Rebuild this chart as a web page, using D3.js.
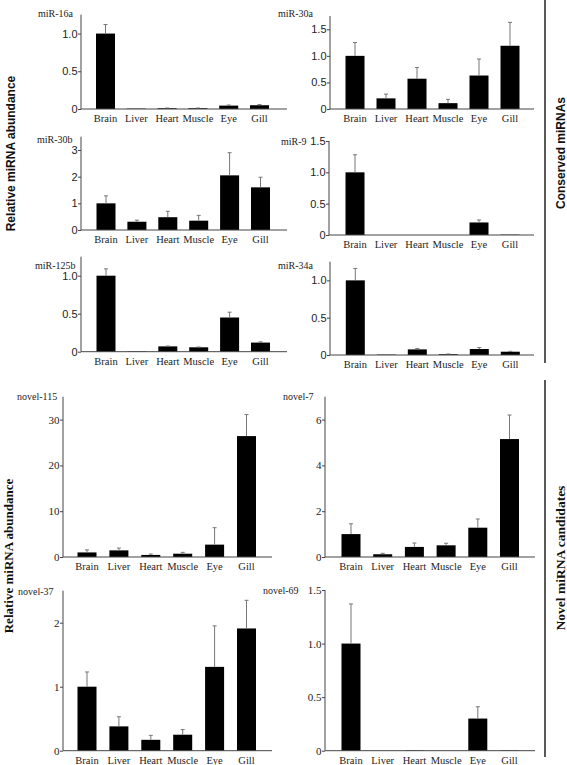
<!DOCTYPE html>
<html><head><meta charset="utf-8">
<script src="https://cdn.jsdelivr.net/npm/d3@7"></script>
<style>body{margin:0;background:#fff}svg{display:block}</style>
</head><body>
<script>
// ---------- DATA ----------
const categories = ["Brain", "Liver", "Heart", "Muscle", "Eye", "Gill"];
const names = ["miR-16a", "miR-30a", "miR-30b", "miR-9", "miR-125b", "miR-34a", "novel-115", "novel-7", "novel-37", "novel-69"];
const miR16a = [1.0, 0.005, 0.01, 0.01, 0.045, 0.05];
const miR16aErr = [0.12, 0, 0.003, 0.003, 0.008, 0.008];
const miR30a = [1.0, 0.2, 0.57, 0.11, 0.63, 1.19];
const miR30aErr = [0.25, 0.08, 0.21, 0.07, 0.31, 0.44];
const miR30b = [1.0, 0.31, 0.48, 0.35, 2.05, 1.6];
const miR30bErr = [0.28, 0.06, 0.22, 0.2, 0.85, 0.38];
const miR9 = [1.0, 0, 0, 0, 0.2, 0.005];
const miR9Err = [0.28, 0, 0, 0, 0.04, 0];
const miR125b = [1.0, 0.005, 0.07, 0.058, 0.45, 0.12];
const miR125bErr = [0.09, 0, 0.005, 0.004, 0.07, 0.01];
const miR34a = [1.0, 0.005, 0.075, 0.01, 0.08, 0.044];
const miR34aErr = [0.16, 0, 0.012, 0.003, 0.02, 0.005];
const novel115 = [1.0, 1.45, 0.45, 0.72, 2.7, 26.4];
const novel115Err = [0.55, 0.5, 0.2, 0.3, 3.7, 4.7];
const novel7 = [1.0, 0.12, 0.44, 0.51, 1.28, 5.15];
const novel7Err = [0.45, 0.04, 0.17, 0.09, 0.38, 1.05];
const novel37 = [1.0, 0.38, 0.17, 0.25, 1.31, 1.91];
const novel37Err = [0.23, 0.15, 0.07, 0.08, 0.64, 0.44];
const novel69 = [1.0, 0, 0.003, 0, 0.3, 0.003];
const novel69Err = [0.37, 0, 0, 0, 0.11, 0];
const yMax = [1.25, 1.75, 3.5, 1.5, 1.25, 1.25, 35, 7, 2.5, 1.5];
const yTicks = [[0, 0.5, 1.0], [0, 0.5, 1.0, 1.5], [0, 1, 2, 3], [0, 0.5, 1.0, 1.5], [0, 0.5, 1.0], [0, 0.5, 1.0],
                [0, 10, 20, 30], [0, 2, 4, 6], [0, 1, 2], [0, 0.5, 1.0, 1.5]];
const tickDecimals = [1, 1, 0, 1, 1, 1, 0, 0, 0, 1];
const groupLabels = ["Conserved miRNAs", "Novel miRNA candidates"];
const yTitle = "Relative miRNA abundance";

const values = [miR16a, miR30a, miR30b, miR9, miR125b, miR34a, novel115, novel7, novel37, novel69];
const errors = [miR16aErr, miR30aErr, miR30bErr, miR9Err, miR125bErr, miR34aErr, novel115Err, novel7Err, novel37Err, novel69Err];

// ---------- LAYOUT ----------
const layout = [
  {ax: 81, end: 287, top: 14.7, base: 109, c0: 105.5, step: 30.8, tx: 38, ty: 17, serif: false},
  {ax: 330, end: 534, top: 16, base: 109, c0: 355, step: 31, tx: 278, ty: 17, serif: false},
  {ax: 81, end: 287, top: 136.7, base: 230, c0: 106, step: 30.9, tx: 37, ty: 143, serif: false},
  {ax: 329, end: 534, top: 141, base: 235, c0: 355, step: 31, tx: 281, ty: 145, serif: false},
  {ax: 81, end: 287, top: 256.7, base: 351.7, c0: 106, step: 30.9, tx: 35, ty: 268.5, serif: false},
  {ax: 330, end: 534, top: 261.7, base: 355, c0: 355.3, step: 31, tx: 278, ty: 269, serif: false},
  {ax: 63, end: 272, top: 396.7, base: 557, c0: 87, step: 31.9, tx: 17, ty: 400, serif: true},
  {ax: 325, end: 535, top: 396.7, base: 557, c0: 351, step: 31.7, tx: 283, ty: 400, serif: true},
  {ax: 63, end: 272, top: 590.7, base: 750.7, c0: 87, step: 31.9, tx: 18, ty: 595, serif: true},
  {ax: 325, end: 535, top: 590, base: 750.7, c0: 351, step: 31.7, tx: 263, ty: 594, serif: true}
];
const SANS = "'Liberation Sans', Arial, sans-serif";
const SERIF = "'Liberation Serif', 'Times New Roman', serif";
const BAR_W = 19;

const svg = d3.select("body").append("svg").attr("width", 567).attr("height", 765);

layout.forEach((L, i) => {
  const g = svg.append("g");
  const x = d3.scaleBand().domain(categories)
    .range([L.c0 - L.step / 2, L.c0 - L.step / 2 + 6 * L.step])
    .paddingInner(1 - BAR_W / L.step).paddingOuter((1 - BAR_W / L.step) / 2);
  const y = d3.scaleLinear().domain([0, yMax[i]]).range([L.base, L.top]);
  const fmt = v => v === 0 ? "0" : d3.format("." + tickDecimals[i] + "f")(v);

  // bars
  g.selectAll("rect.bar").data(categories).join("rect")
    .attr("x", c => x(c)).attr("width", x.bandwidth())
    .attr("y", (c, j) => y(values[i][j]))
    .attr("height", (c, j) => L.base - y(values[i][j]))
    .attr("fill", "#000");

  // error bars (upper)
  const eb = g.selectAll("g.err").data(categories.map((c, j) => ({c, v: values[i][j], e: errors[i][j]})).filter(d => d.e > 0))
    .join("g");
  eb.append("line")
    .attr("x1", d => x(d.c) + x.bandwidth() / 2).attr("x2", d => x(d.c) + x.bandwidth() / 2)
    .attr("y1", d => y(d.v)).attr("y2", d => y(d.v + d.e))
    .attr("stroke", "#777").attr("stroke-width", 1);
  eb.append("line")
    .attr("x1", d => x(d.c) + x.bandwidth() / 2 - 2).attr("x2", d => x(d.c) + x.bandwidth() / 2 + 2)
    .attr("y1", d => y(d.v + d.e)).attr("y2", d => y(d.v + d.e))
    .attr("stroke", "#777").attr("stroke-width", 1);

  // y axis
  const yAxis = d3.axisLeft(y).tickValues(yTicks[i]).tickFormat(fmt).tickSize(3).tickSizeOuter(0);
  const ya = g.append("g").attr("transform", `translate(${L.ax},0)`).call(yAxis);
  ya.select(".domain").remove();
  ya.append("line").attr("x1", 0).attr("x2", 0).attr("y1", L.base).attr("y2", L.top).attr("stroke", "#444");
  ya.selectAll(".tick line").attr("stroke", "#444");
  ya.selectAll(".tick text")
    .attr("font-family", L.serif ? SERIF : SANS)
    .attr("font-size", 11)
    .attr("fill", "#222").attr("x", -3.5);

  // x axis
  g.append("line").attr("x1", L.ax).attr("x2", L.end).attr("y1", L.base).attr("y2", L.base)
    .attr("stroke", "#444");
  g.selectAll("text.cat").data(categories).join("text")
    .attr("x", c => x(c) + x.bandwidth() / 2)
    .attr("y", L.base + 13)
    .attr("text-anchor", "middle")
    .attr("font-family", SERIF).attr("font-size", 10.5).attr("fill", "#222")
    .text(c => c);

  // title
  g.append("text").attr("x", L.tx).attr("y", L.ty)
    .attr("font-family", SERIF).attr("font-size", 10).attr("fill", "#222")
    .text(names[i]);
});

// left axis titles
svg.append("text").attr("transform", "translate(15,153.5) rotate(-90)")
  .attr("text-anchor", "middle").attr("font-family", SANS).attr("font-weight", "bold")
  .attr("font-size", 12).attr("fill", "#111").text(yTitle);
svg.append("text").attr("transform", "translate(13,556) rotate(-90)")
  .attr("text-anchor", "middle").attr("font-family", SERIF).attr("font-weight", "bold")
  .attr("font-size", 13).attr("fill", "#111").text(yTitle);

// right group separators and labels
svg.append("line").attr("x1", 545).attr("x2", 545).attr("y1", 0).attr("y2", 363)
  .attr("stroke", "#222").attr("stroke-width", 1.5);
svg.append("line").attr("x1", 545).attr("x2", 545).attr("y1", 380).attr("y2", 757)
  .attr("stroke", "#222").attr("stroke-width", 1.5);
svg.append("text").attr("transform", "translate(565,153) rotate(-90)")
  .attr("text-anchor", "middle").attr("font-family", SANS).attr("font-weight", "bold")
  .attr("font-size", 12).attr("fill", "#111").text(groupLabels[0]);
svg.append("text").attr("transform", "translate(565,558) rotate(-90)")
  .attr("text-anchor", "middle").attr("font-family", SERIF).attr("font-weight", "bold")
  .attr("font-size", 13.5).attr("fill", "#111").text(groupLabels[1]);
</script>
</body></html>
